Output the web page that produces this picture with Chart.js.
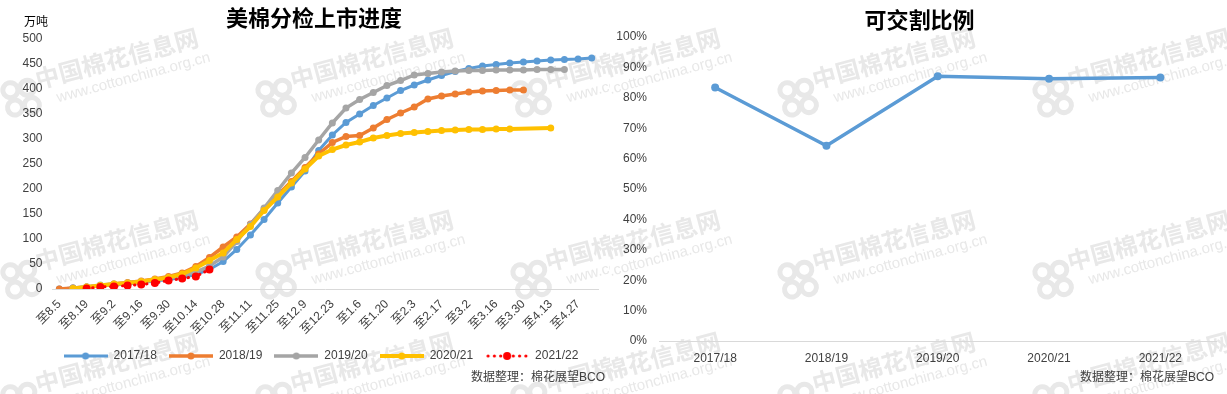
<!DOCTYPE html>
<html>
<head>
<meta charset="utf-8">
<script src="https://cdn.jsdelivr.net/npm/chart.js@4.4.1/dist/chart.umd.min.js"></script>
<style>
  body { margin: 0; background: #fff; }
  #wrap { position: relative; width: 1227px; height: 394px; overflow: hidden; }
  #wm, #left, #right { position: absolute; top: 0; }
  #wm { left: 0; }
  #left { left: 0; }
  #right { left: 610px; }
</style>
</head>
<body>
<div id="wrap">
  <canvas id="wm" width="1227" height="394"></canvas>
  <canvas id="left" width="610" height="394"></canvas>
  <canvas id="right" width="617" height="394"></canvas>
</div>
<script>
// weekly categories (至 = "up to")
const weeks = ['8.5','8.12','8.19','8.26','9.2','9.9','9.16','9.23','9.30','10.7',
  '10.14','10.21','10.28','11.4','11.11','11.18','11.25','12.2','12.9','12.16',
  '12.23','12.30','1.6','1.13','1.20','1.27','2.3','2.10','2.17','2.24',
  '3.2','3.9','3.16','3.23','3.30','4.6','4.13','4.20','4.27','5.4'];

// 万吨, cumulative classed
const s1718 = [0,2,4,6,8,10,13,16,19,23,29,39,55,79,108,139,172,204,236,277,
  308,333,350,367,382,397,408,418,427,435,441,446,449,452,454,456,458,459,460,462];
const s1819 = [0,2,4,7,10,13,16,20,25,32,45,63,84,104,130,160,188,215,243,270,
  293,305,307,322,339,352,364,380,386,390,394,396,397,398,398];
const s1920 = [null,2,4,8,10,12,15,18,22,27,34,46,64,95,129,162,197,232,263,298,
  332,362,379,393,407,417,428,431,434,436,437,437,438,438,438,439,439,439];
const s2021 = [null,1,4,7,10,12,15,19,23,30,42,57,72,99,125,157,184,212,240,266,
  279,288,294,302,307,311,313,315,317,318,319,319,320,320,null,null,322];
const s2122 = [null,null,1,4,5,7,9,12,17,21,25,39];

const seasons = ['2017/18','2018/19','2019/20','2020/21','2021/22'];
const ratio = [83.4, 64.2, 87.1, 86.3, 86.7];

Chart.defaults.font.family = '"Liberation Sans", "Noto Sans CJK SC", sans-serif';
Chart.defaults.font.size = 12;
Chart.defaults.color = '#404040';

// watermark of the source site, one grid per picture
function stamp(ctx, x, y) {
  ctx.save();
  ctx.translate(x, y);
  ctx.rotate(-15 * Math.PI / 180);
  ctx.fillStyle = '#e8e8e8';
  ctx.strokeStyle = '#e8e8e8';
  ctx.font = 'bold 24px "Noto Sans CJK SC"';
  ctx.fillText('中国棉花信息网', 0, 0);
  ctx.font = '15px "Liberation Sans"';
  ctx.fillText('www.cottonchina.org.cn', 16, 18);
  ctx.lineWidth = 5;
  [[-27, -6], [-27, 12], [-10, -4], [-10, 14]].forEach(p => {
    ctx.beginPath();
    ctx.arc(p[0], p[1], 7.5, 0, Math.PI * 2);
    ctx.stroke();
  });
  ctx.restore();
}
function watermark() {
  const ctx = document.getElementById('wm').getContext('2d');
  const rows = [89, 271, 393];
  [[0, 610, [38, 293, 548]], [610, 617, [560, 815, 1070]]].forEach(part => {
    ctx.save();
    ctx.beginPath();
    ctx.rect(part[0], 0, part[1], 394);
    ctx.clip();
    rows.forEach(y => part[2].forEach(x => stamp(ctx, x, y)));
    ctx.restore();
  });
}
watermark();

const texts = {
  id: 'texts',
  afterLayout(chart, args, opts) {
    // nudge the legend row to where the original sits
    if (opts.legendShift && chart.legend) {
      chart.legend.left += opts.legendShift;
      chart.legend.right += opts.legendShift;
    }
  },
  afterDraw(chart, args, opts) {
    const ctx = chart.ctx;
    ctx.save();
    ctx.textBaseline = 'middle';
    opts.items.forEach(t => {
      ctx.font = t.font;
      ctx.fillStyle = t.color || '#000';
      ctx.textAlign = t.align;
      ctx.fillText(t.text, t.x, t.y);
    });
    ctx.restore();
  }
};

function legendMark(color, width, dotted) {
  const c = document.createElement('canvas');
  c.width = 44;
  c.height = 12;
  const g = c.getContext('2d');
  g.fillStyle = color;
  g.strokeStyle = color;
  if (dotted) {
    for (let x = 3; x < 44; x += 6.3) {
      g.beginPath(); g.arc(x, 6, 1.6, 0, Math.PI * 2); g.fill();
    }
    g.beginPath(); g.arc(22, 6, 4, 0, Math.PI * 2); g.fill();
  } else {
    g.lineWidth = width;
    g.beginPath(); g.moveTo(0, 6); g.lineTo(44, 6); g.stroke();
    g.beginPath(); g.arc(22, 6, 3.5, 0, Math.PI * 2); g.fill();
  }
  return c;
}

function series(label, data, color, width, order) {
  return {
    label: label,
    data: data,
    borderColor: color,
    backgroundColor: color,
    borderWidth: width,
    pointRadius: 3.5,
    pointBorderWidth: 0,
    pointHoverRadius: 3.5,
    tension: 0,
    order: order,
    mark: legendMark(color, width, false)
  };
}

const red = series('2021/22', s2122, '#ff0000', 3, 1);
red.borderDash = [0.5, 5.5];
red.borderCapStyle = 'round';
red.pointRadius = 4;
red.mark = legendMark('#ff0000', 3, true);
const yellow = series('2020/21', s2021, '#ffc000', 4, 2);
yellow.spanGaps = true;

new Chart(document.getElementById('left'), {
  type: 'line',
  data: {
    labels: weeks.map(w => '至' + w),
    datasets: [
      series('2017/18', s1718, '#5b9bd5', 3, 5),
      series('2018/19', s1819, '#ed7d31', 3.5, 4),
      series('2019/20', s1920, '#a5a5a5', 3.5, 3),
      yellow,
      red
    ]
  },
  options: {
    responsive: false,
    animation: false,
    layout: { padding: { left: 0, right: 10, top: 39, bottom: 22 } },
    scales: {
      x: {
        offset: true,
        grid: { display: false, drawTicks: false },
        border: { color: '#d9d9d9' },
        ticks: {
          autoSkip: false, maxRotation: 45, minRotation: 45, padding: 8,
          color: '#404040',
          callback: (v, i) => i % 2 === 0 ? '至' + weeks[i] : ''
        },
        afterFit: s => { s.height = 49; }
      },
      y: {
        min: 0, max: 500,
        grid: { display: false, drawTicks: false },
        border: { display: false },
        ticks: { stepSize: 50, padding: 10, color: '#404040' },
        afterFit: s => { s.width = 52.5; }
      }
    },
    plugins: {
      tooltip: { enabled: false },
      legend: {
        position: 'bottom',
        labels: {
          usePointStyle: true, pointStyleWidth: 44, boxHeight: 12, padding: 12,
          color: '#404040',
          generateLabels: chart => chart.data.datasets.map((d, i) => ({
            text: d.label, pointStyle: d.mark, fillStyle: d.borderColor,
            strokeStyle: d.borderColor, lineWidth: 0, hidden: false, datasetIndex: i,
            fontColor: '#404040'
          }))
        }
      },
      texts: {
        legendShift: 21,
        items: [
          { text: '美棉分检上市进度', x: 314, y: 18, font: 'bold 22px "Noto Sans CJK SC"', align: 'center' },
          { text: '万吨', x: 24, y: 21, font: '12px "Noto Sans CJK SC"', align: 'left' },
          { text: '数据整理：棉花展望BCO', x: 605, y: 378, font: '12px "Liberation Sans", "Noto Sans CJK SC"', align: 'right', color: '#404040' }
        ]
      }
    }
  },
  plugins: [texts]
});

new Chart(document.getElementById('right'), {
  type: 'line',
  data: {
    labels: seasons,
    datasets: [{
      label: '可交割比例',
      data: ratio,
      borderColor: '#5b9bd5',
      backgroundColor: '#5b9bd5',
      borderWidth: 3.5,
      pointRadius: 4,
      pointBorderWidth: 0,
      tension: 0
    }]
  },
  options: {
    responsive: false,
    animation: false,
    layout: { padding: { left: 0, right: 11, top: 37, bottom: 0 } },
    scales: {
      x: {
        offset: true,
        grid: { display: false, drawTicks: false },
        border: { color: '#d9d9d9' },
        ticks: { padding: 10, color: '#404040' },
        afterFit: s => { s.height = 53; }
      },
      y: {
        min: 0, max: 100,
        grid: { display: false, drawTicks: false },
        border: { display: false },
        ticks: { stepSize: 10, padding: 12.5, color: '#404040', callback: v => v + '%' },
        afterFit: s => { s.width = 49.5; }
      }
    },
    plugins: {
      tooltip: { enabled: false },
      legend: { display: false },
      texts: {
        items: [
          { text: '可交割比例', x: 309.5, y: 20, font: 'bold 22px "Noto Sans CJK SC"', align: 'center' },
          { text: '数据整理：棉花展望BCO', x: 604, y: 378, font: '12px "Liberation Sans", "Noto Sans CJK SC"', align: 'right', color: '#404040' }
        ]
      }
    }
  },
  plugins: [texts]
});
</script>
</body>
</html>
